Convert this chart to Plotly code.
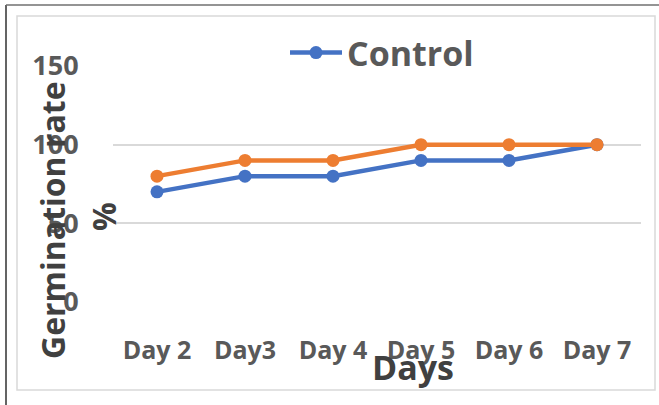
import plotly.graph_objects as go

days = ["Day 2", "Day3", "Day 4", "Day 5", "Day 6", "Day 7"]
control = [70, 80, 80, 90, 90, 100]
treatment = [80, 90, 90, 100, 100, 100]
y_ticks = [0, 50, 100, 150]

W, H = 659, 405
L, R, T, B = 113, 641, 66, 302  # plot area pixels
FONT = "Open Sans"


def px(x):
    return (x - L) / (R - L)


def py(y):
    return (B - y) / (B - T)


fig = go.Figure()
fig.add_trace(go.Scatter(x=days, y=control, name="Control", mode="lines+markers",
                         line=dict(color="#4472C4", width=4.5),
                         marker=dict(size=13, color="#4472C4")))
fig.add_trace(go.Scatter(x=days, y=treatment, name="Treatment", mode="lines+markers",
                         showlegend=False,
                         line=dict(color="#ED7D31", width=4.5),
                         marker=dict(size=13, color="#ED7D31")))

fig.update_layout(
    width=W, height=H,
    margin=dict(l=L, r=W - R, t=T, b=H - B),
    paper_bgcolor="white", plot_bgcolor="white",
    font=dict(family=FONT, color="#595959"),
    showlegend=True,
    legend=dict(orientation="h", x=px(285), y=py(53), xanchor="left", yanchor="middle",
                font=dict(size=34, color="#595959", family=FONT, weight="bold"),
                itemwidth=52, bgcolor="rgba(0,0,0,0)"),
    xaxis=dict(type="category", range=[-0.5, 5.5], showgrid=False, zeroline=False, showline=False,
               ticks="outside", ticklen=26, tickcolor="rgba(0,0,0,0)",
               tickfont=dict(size=25, color="#595959", family=FONT, weight="bold")),
    yaxis=dict(range=[0, 150], tickvals=y_ticks, showgrid=True, gridcolor="#D9D9D9",
               gridwidth=1.5, zeroline=False, showline=False,
               ticks="outside", ticklen=28, tickcolor="rgba(0,0,0,0)",
               tickfont=dict(size=27, color="#595959", family=FONT, weight="bold")),
    shapes=[
        dict(type="rect", xref="paper", yref="paper", x0=px(17), x1=px(655), y0=py(390), y1=py(16),
             line=dict(color="#D9D9D9", width=1.5)),
        dict(type="line", xref="paper", yref="paper", x0=px(6), x1=px(6), y0=py(5), y1=py(410),
             line=dict(color="#303030", width=1.5)),
        dict(type="line", xref="paper", yref="paper", x0=px(6), x1=px(670), y0=py(5), y1=py(5),
             line=dict(color="#707070", width=1.5)),
    ],
    annotations=[
        dict(text="<b>Germination rate</b>", xref="paper", yref="paper", x=px(52), y=py(220),
             xanchor="center", yanchor="middle", textangle=-90, showarrow=False,
             font=dict(size=32, color="#404040", family=FONT)),
        dict(text="<b>%</b>", xref="paper", yref="paper", x=px(103), y=py(217),
             xanchor="center", yanchor="middle", textangle=-90, showarrow=False,
             font=dict(size=32, color="#404040", family=FONT)),
        dict(text="<b>Days</b>", xref="paper", yref="paper", x=px(413), y=py(367),
             xanchor="center", yanchor="middle", showarrow=False,
             font=dict(size=34, color="#404040", family=FONT)),
    ],
)

fig.write_html("out.html", config={"displayModeBar": False},
               post_script="document.body.style.margin='0';")
